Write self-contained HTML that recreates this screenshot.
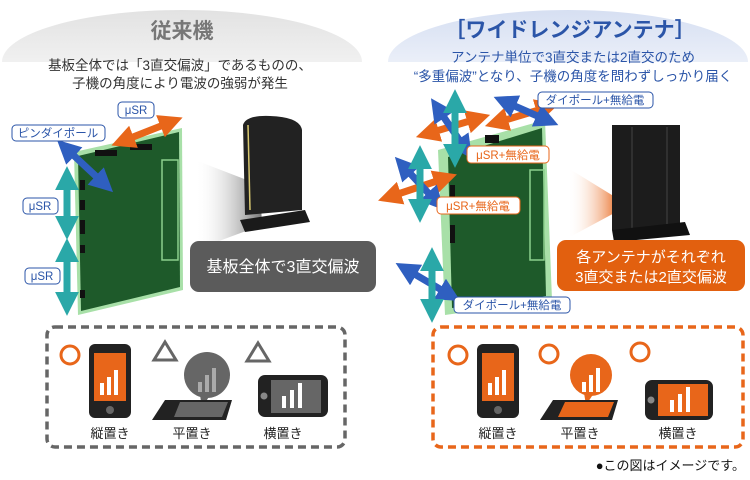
<!DOCTYPE html>
<html><head><meta charset="utf-8"><style>
body{margin:0;background:#fff;}
svg{display:block;font-family:"Liberation Sans","Noto Sans CJK JP",sans-serif;}
</style></head><body>
<svg width="750" height="480" viewBox="0 0 750 480" xmlns="http://www.w3.org/2000/svg">
<defs>
<linearGradient id="dg" x1="0" y1="0" x2="0" y2="1"><stop offset="0" stop-color="#e2e2e2"/><stop offset="1" stop-color="#fff"/></linearGradient>
<linearGradient id="db" x1="0" y1="0" x2="0" y2="1"><stop offset="0" stop-color="#d6dff2"/><stop offset="1" stop-color="#fff"/></linearGradient>
<linearGradient id="tg" x1="0" y1="0" x2="1" y2="0"><stop offset="0" stop-color="#fff" stop-opacity="0"/><stop offset="1" stop-color="#555"/></linearGradient>
<linearGradient id="to" x1="0" y1="0" x2="1" y2="0"><stop offset="0" stop-color="#fff" stop-opacity="0"/><stop offset="1" stop-color="#e8661a"/></linearGradient>
<marker id="mo" viewBox="0 0 4 4" refX="1" refY="2" markerWidth="3.4" markerHeight="3.4" orient="auto-start-reverse"><path d="M0,0L4,2L0,4z" fill="#e8661a"/></marker>
<marker id="mb" viewBox="0 0 4 4" refX="1" refY="2" markerWidth="3.4" markerHeight="3.4" orient="auto-start-reverse"><path d="M0,0L4,2L0,4z" fill="#2f5fc0"/></marker>
<marker id="mt" viewBox="0 0 4 4" refX="1" refY="2" markerWidth="3.4" markerHeight="3.4" orient="auto-start-reverse"><path d="M0,0L4,2L0,4z" fill="#2aa8a8"/></marker>
</defs>
<ellipse cx="182" cy="62" rx="180" ry="52" fill="url(#dg)"/>
<rect x="0" y="62" width="375" height="60" fill="#fff"/>
<ellipse cx="568" cy="62" rx="180" ry="52" fill="url(#db)"/>
<rect x="375" y="62" width="375" height="60" fill="#fff"/>
<text x="182" y="38" font-size="21" fill="#777" text-anchor="middle" font-weight="bold">従来機</text>
<text x="180" y="70" font-size="13.5" fill="#333" text-anchor="middle">基板全体では「3直交偏波」であるものの、</text>
<text x="180" y="88" font-size="13.5" fill="#333" text-anchor="middle">子機の角度により電波の強弱が発生</text>
<text x="570" y="37" font-size="21" fill="#2b55a8" text-anchor="middle" font-weight="bold">［ワイドレンジアンテナ］</text>
<text x="573" y="62" font-size="13.5" fill="#2b55a8" text-anchor="middle">アンテナ単位で3直交または2直交のため</text>
<text x="573" y="81" font-size="13.5" fill="#2b55a8" text-anchor="middle">“多重偏波”となり、子機の角度を問わずしっかり届く</text>

<polygon points="74,152 182,128 183,290 78,315" fill="#a8e0a8"/>
<polygon points="78,156 179,132 180,287 81,311" fill="#1e5a2a"/>
<rect x="162" y="160" width="16" height="100" fill="none" stroke="#8ccf8c" stroke-width="1.5"/>
<rect x="95" y="150" width="22" height="6" fill="#111"/><rect x="130" y="144" width="22" height="6" fill="#111"/>
<rect x="80" y="180" width="5" height="10" fill="#111"/><rect x="80" y="200" width="5" height="10" fill="#111"/><rect x="80" y="220" width="5" height="14" fill="#111"/><rect x="80" y="245" width="5" height="8" fill="#111"/><rect x="80" y="290" width="5" height="8" fill="#111"/>
<polygon points="195,160 260,185 262,225 195,250" fill="url(#tg)" opacity="0.8"/>
<path d="M243,125 Q246,115 270,116 Q300,117 302,130 L302,210 L245,215 Z" fill="#222"/>
<path d="M248,125 L250,210" stroke="#d8c870" stroke-width="1.5"/>
<polygon points="240,220 305,210 310,222 245,232" fill="#1a1a1a"/>
<line x1="128" y1="139" x2="166" y2="124" stroke="#e8661a" stroke-width="7" marker-start="url(#mo)" marker-end="url(#mo)"/>
<line x1="70" y1="152" x2="100" y2="180" stroke="#2f5fc0" stroke-width="7" marker-start="url(#mb)" marker-end="url(#mb)"/>
<line x1="67" y1="184" x2="67" y2="222" stroke="#2aa8a8" stroke-width="7" marker-start="url(#mt)" marker-end="url(#mt)"/>
<line x1="67" y1="256" x2="67" y2="298" stroke="#2aa8a8" stroke-width="7" marker-start="url(#mt)" marker-end="url(#mt)"/>
<g font-size="11.5" fill="#2b55a8" text-anchor="middle">
<rect x="118" y="102" width="36" height="16" rx="4" fill="#fff" stroke="#2b55a8"/><text x="136" y="114">μSR</text>
<rect x="12" y="125" width="93" height="16" rx="4" fill="#fff" stroke="#2b55a8"/><text x="58" y="137">ピンダイポール</text>
<rect x="23" y="198" width="35" height="16" rx="4" fill="#fff" stroke="#2b55a8"/><text x="40" y="210">μSR</text>
<rect x="25" y="268" width="35" height="16" rx="4" fill="#fff" stroke="#2b55a8"/><text x="42" y="280">μSR</text>
</g>
<rect x="190" y="241" width="186" height="51" rx="9" fill="#5b5b5b"/>
<text x="283" y="272" font-size="16" fill="#fff" text-anchor="middle">基板全体で3直交偏波</text>

<polygon points="438,150 545,120 552,300 445,315" fill="#a8e0a8"/>
<polygon points="448,157 542,128 546,296 452,308" fill="#1e5a2a"/>
<rect x="530" y="170" width="14" height="90" fill="none" stroke="#8ccf8c" stroke-width="1.5"/>
<rect x="450" y="185" width="5" height="14" fill="#111"/><rect x="450" y="225" width="5" height="18" fill="#111"/>
<rect x="485" y="135" width="14" height="8" fill="#111"/>
<polygon points="568,168 620,200 620,210 568,238" fill="url(#to)"/>
<rect x="612" y="125" width="68" height="105" fill="#1c1c1c"/>
<line x1="632" y1="127" x2="632" y2="228" stroke="#444"/><line x1="667" y1="127" x2="667" y2="228" stroke="#444"/>
<polygon points="612,230 685,222 690,235 614,242" fill="#111"/>
<line x1="395" y1="195" x2="440" y2="180" stroke="#e8661a" stroke-width="7" marker-start="url(#mo)" marker-end="url(#mo)"/>
<line x1="433" y1="132" x2="473" y2="120" stroke="#e8661a" stroke-width="7" marker-start="url(#mo)" marker-end="url(#mo)"/>
<line x1="502" y1="121" x2="542" y2="109" stroke="#e8661a" stroke-width="7" marker-start="url(#mo)" marker-end="url(#mo)"/>
<line x1="441" y1="113" x2="462" y2="144" stroke="#2f5fc0" stroke-width="7" marker-start="url(#mb)" marker-end="url(#mb)"/>
<line x1="407" y1="170" x2="432" y2="197" stroke="#2f5fc0" stroke-width="7" marker-start="url(#mb)" marker-end="url(#mb)"/>
<line x1="510" y1="104" x2="542" y2="118" stroke="#2f5fc0" stroke-width="7" marker-start="url(#mb)" marker-end="url(#mb)"/>
<line x1="411" y1="272" x2="445" y2="292" stroke="#2f5fc0" stroke-width="7" marker-start="url(#mb)" marker-end="url(#mb)"/>
<line x1="455" y1="107" x2="455" y2="150" stroke="#2aa8a8" stroke-width="7" marker-start="url(#mt)" marker-end="url(#mt)"/>
<line x1="420" y1="163" x2="420" y2="205" stroke="#2aa8a8" stroke-width="7" marker-start="url(#mt)" marker-end="url(#mt)"/>
<line x1="432" y1="265" x2="432" y2="305" stroke="#2aa8a8" stroke-width="7" marker-start="url(#mt)" marker-end="url(#mt)"/>
<g font-size="11.5" text-anchor="middle">
<rect x="538" y="92" width="115" height="16" rx="4" fill="#fff" stroke="#2b55a8"/><text x="595" y="104" fill="#2b55a8">ダイポール+無給電</text>
<rect x="467" y="146" width="82" height="17" rx="4" fill="#fff" stroke="#e8661a"/><text x="508" y="159" fill="#e8661a">μSR+無給電</text>
<rect x="437" y="197" width="83" height="17" rx="4" fill="#fff" stroke="#e8661a"/><text x="478" y="210" fill="#e8661a">μSR+無給電</text>
<rect x="454" y="297" width="116" height="16" rx="4" fill="#fff" stroke="#2b55a8"/><text x="512" y="309" fill="#2b55a8">ダイポール+無給電</text>
</g>
<rect x="557" y="240" width="188" height="51" rx="9" fill="#e2600f"/>
<text x="651" y="262" font-size="15" fill="#fff" text-anchor="middle">各アンテナがそれぞれ</text>
<text x="651" y="282" font-size="15" fill="#fff" text-anchor="middle">3直交または2直交偏波</text>

<rect x="47" y="327" width="298" height="120" rx="8" fill="none" stroke="#666" stroke-width="3.5" stroke-dasharray="8,5"/>
<circle cx="70" cy="355" r="9" fill="none" stroke="#e8661a" stroke-width="3"/>
<rect x="89" y="344" width="42" height="74" rx="6" fill="#222"/><rect x="94" y="353" width="32" height="48" fill="#e8661a"/><circle cx="110" cy="410" r="4" fill="#666"/>
<g fill="#fff"><rect x="100" y="383" width="4" height="12"/><rect x="107" y="377" width="4" height="18"/><rect x="114" y="370" width="4" height="25"/></g>
<polygon points="165,342 176,360 154,360" fill="none" stroke="#666" stroke-width="3"/>
<circle cx="207" cy="375" r="23" fill="#666"/><polygon points="200,395 210,395 202,408" fill="#666"/>
<g fill="#aaa"><rect x="198" y="382" width="4" height="10"/><rect x="205" y="375" width="4" height="17"/><rect x="212" y="368" width="4" height="24"/></g>
<polygon points="165,400 232,400 226,420 152,420" fill="#222"/><polygon points="180,402 228,402 222,417 174,417" fill="#666"/>
<polygon points="258,343 269,361 247,361" fill="none" stroke="#666" stroke-width="3"/>
<rect x="258" y="375" width="70" height="42" rx="7" fill="#222"/><rect x="271" y="380" width="50" height="33" fill="#666"/><circle cx="264" cy="396" r="3.5" fill="#888"/>
<g fill="#fff"><rect x="282" y="396" width="4" height="12"/><rect x="290" y="390" width="4" height="18"/><rect x="298" y="383" width="4" height="25"/></g>
<g font-size="13" fill="#222" text-anchor="middle"><text x="110" y="438">縦置き</text><text x="192" y="438">平置き</text><text x="283" y="438">横置き</text></g>

<rect x="433" y="327" width="310" height="120" rx="8" fill="none" stroke="#e8661a" stroke-width="3.5" stroke-dasharray="8,5"/>
<circle cx="458" cy="355" r="9" fill="none" stroke="#e8661a" stroke-width="3"/>
<rect x="477" y="344" width="42" height="74" rx="6" fill="#222"/><rect x="482" y="353" width="32" height="48" fill="#e8661a"/><circle cx="498" cy="410" r="4" fill="#666"/>
<g fill="#fff"><rect x="488" y="383" width="4" height="12"/><rect x="495" y="377" width="4" height="18"/><rect x="502" y="370" width="4" height="25"/></g>
<circle cx="549" cy="354" r="9" fill="none" stroke="#e8661a" stroke-width="3"/>
<circle cx="591" cy="375" r="21" fill="#e8661a"/><polygon points="584,393 594,393 586,405" fill="#e8661a"/>
<g fill="#fff"><rect x="582" y="382" width="4" height="10"/><rect x="589" y="375" width="4" height="17"/><rect x="596" y="368" width="4" height="24"/></g>
<polygon points="553,400 618,400 612,420 540,420" fill="#222"/><polygon points="565,402 614,402 608,417 558,417" fill="#e8661a"/>
<circle cx="640" cy="352" r="9" fill="none" stroke="#e8661a" stroke-width="3"/>
<rect x="645" y="380" width="68" height="40" rx="7" fill="#222"/><rect x="658" y="384" width="50" height="32" fill="#e8661a"/><circle cx="651" cy="400" r="3.5" fill="#888"/>
<g fill="#fff"><rect x="670" y="400" width="4" height="12"/><rect x="678" y="394" width="4" height="18"/><rect x="686" y="387" width="4" height="25"/></g>
<g font-size="13" fill="#222" text-anchor="middle"><text x="498" y="438">縦置き</text><text x="580" y="438">平置き</text><text x="678" y="438">横置き</text></g>
<text x="745" y="470" font-size="13" fill="#111" text-anchor="end">●この図はイメージです。</text>
</svg>
</body></html>
